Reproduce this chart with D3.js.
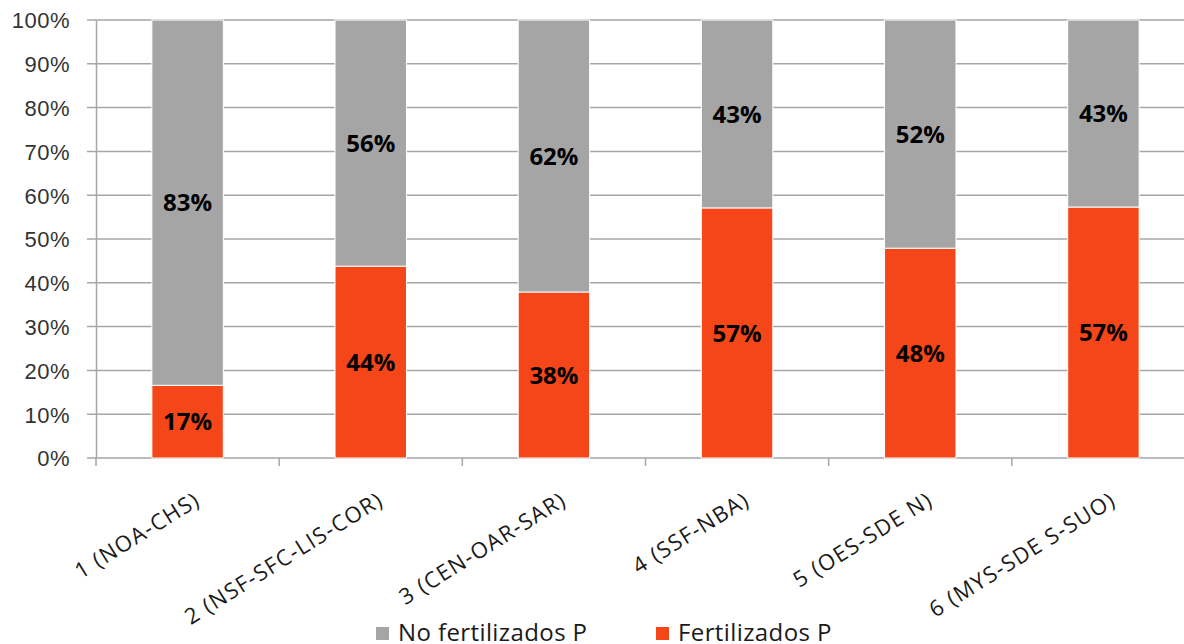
<!DOCTYPE html>
<html>
<head>
<meta charset="utf-8">
<script src="https://cdn.jsdelivr.net/npm/d3@7"></script>
<style>
  body { margin: 0; background: #fff; }
  svg { display: block; font-family: 'Open Sans', 'Noto Sans', sans-serif; }
</style>
</head>
<body>
<div class="chart"></div>
<script>
/** chart data */
let categories = ["1 (NOA-CHS)", "2 (NSF-SFC-LIS-COR)", "3 (CEN-OAR-SAR)", "4 (SSF-NBA)", "5 (OES-SDE N)", "6 (MYS-SDE S-SUO)"];
let fertilizados = [16.6, 43.8, 37.9, 57.1, 47.9, 57.3];
let noFertilizados = [83.4, 56.2, 62.1, 42.9, 52.1, 42.7];
let seriesNames = ["No fertilizados P", "Fertilizados P"];
let yTicks = [0, 10, 20, 30, 40, 50, 60, 70, 80, 90, 100];

let colors = { "Fertilizados P": "#F5461A", "No fertilizados P": "#A5A5A5" };
let gridColor = "#A6A6A6";

let width = 1184, height = 644;
let margin = { top: 20, left: 96, bottom: 186 };
let plotRight = 1195;   // plot area runs past the right edge, like the source

let svg = d3.select('.chart').append('svg')
    .attr('width', width)
    .attr('height', height);

/** build stacked rows */
let rows = categories.map(function (c, i) {
    return { cat: c, "Fertilizados P": fertilizados[i], "No fertilizados P": noFertilizados[i] };
});
let stack = d3.stack().keys(["Fertilizados P", "No fertilizados P"]);
let layers = stack(rows);

/** scales */
let xScale = d3.scaleBand()
    .domain(categories)
    .range([margin.left, plotRight])
    .paddingInner(0.61)
    .paddingOuter(0.305);

let yScale = d3.scaleLinear()
    .domain([0, 100])
    .range([height - margin.bottom, margin.top]);

/** gridlines */
svg.append('g')
    .selectAll('line')
    .data(yTicks)
    .enter()
        .append('line')
        .attr('x1', margin.left - 9)
        .attr('x2', width)
        .attr('y1', function (d) { return yScale(d) })
        .attr('y2', function (d) { return yScale(d) })
        .attr('stroke', gridColor)
        .attr('stroke-width', 1.5);

/** y axis */
let yAxis = d3.axisLeft(yScale)
    .tickValues(yTicks)
    .tickSize(0)
    .tickPadding(26)
    .tickFormat(function (d) { return d + '%' });

let gy = svg.append('g')
    .attr('transform', `translate(${margin.left}, 0)`)
    .call(yAxis);
gy.select('.domain').attr('stroke', gridColor).attr('stroke-width', 1.5);
gy.selectAll('text')
    .style('font-size', '22px')
    .style('letter-spacing', '0.5px')
    .style('fill', '#333')
    .attr('dy', '0.36em');

/** x axis ticks between categories */
let boundaries = d3.range(categories.length + 1).map(function (i) {
    return margin.left + i * xScale.step();
});
svg.append('g')
    .selectAll('line')
    .data(boundaries)
    .enter()
        .append('line')
        .attr('x1', function (d) { return d })
        .attr('x2', function (d) { return d })
        .attr('y1', yScale(0))
        .attr('y2', yScale(0) + 8)
        .attr('stroke', gridColor)
        .attr('stroke-width', 1.5);

/** bars */
let barGroups = svg.selectAll('.layer')
    .data(layers)
    .enter()
        .append('g')
        .attr('class', 'layer')
        .attr('fill', function (d) { return colors[d.key] });

barGroups.selectAll('rect')
    .data(function (d) { return d })
    .enter()
        .append('rect')
        .attr('x', function (d) { return xScale(d.data.cat) })
        .attr('y', function (d) { return yScale(d[1]) })
        .attr('width', xScale.bandwidth())
        .attr('height', function (d) { return yScale(d[0]) - yScale(d[1]) })
        .attr('stroke', '#fff')
        .attr('stroke-width', 1);

/** value labels */
barGroups.selectAll('text')
    .data(function (d) { return d })
    .enter()
        .append('text')
        .attr('x', function (d) { return xScale(d.data.cat) + xScale.bandwidth() / 2 })
        .attr('y', function (d) { return (yScale(d[0]) + yScale(d[1])) / 2 })
        .attr('dy', '0.36em')
        .attr('text-anchor', 'middle')
        .style('font-size', '24px')
        .style('font-weight', 'bold')
        .style('fill', '#000')
        .text(function (d) { return Math.round(d[1] - d[0]) + '%' });

/** category labels, rotated */
svg.append('g')
    .selectAll('text')
    .data(categories)
    .enter()
        .append('text')
        .attr('transform', function (d) {
            let cx = xScale(d) + xScale.bandwidth() / 2 + 14;
            return `translate(${cx}, ${yScale(0) + 46}) rotate(-32)`;
        })
        .attr('text-anchor', 'end')
        .style('font-size', '22px')
        .style('letter-spacing', '1.3px')
        .style('fill', '#1a1a1a')
        .text(function (d) { return d });

/** legend */
let legendX = [376, 656];
let legend = svg.append('g')
    .selectAll('g')
    .data(seriesNames)
    .enter()
        .append('g')
        .attr('transform', function (d, i) { return `translate(${legendX[i]}, 627)` });
legend.append('rect')
    .attr('width', 13)
    .attr('height', 13)
    .attr('fill', function (d) { return colors[d] });
legend.append('text')
    .attr('x', 22)
    .attr('y', 14)
    .style('font-size', '24px')
    .style('letter-spacing', '0.4px')
    .style('fill', '#1a1a1a')
    .text(function (d) { return d });
</script>
</body>
</html>
